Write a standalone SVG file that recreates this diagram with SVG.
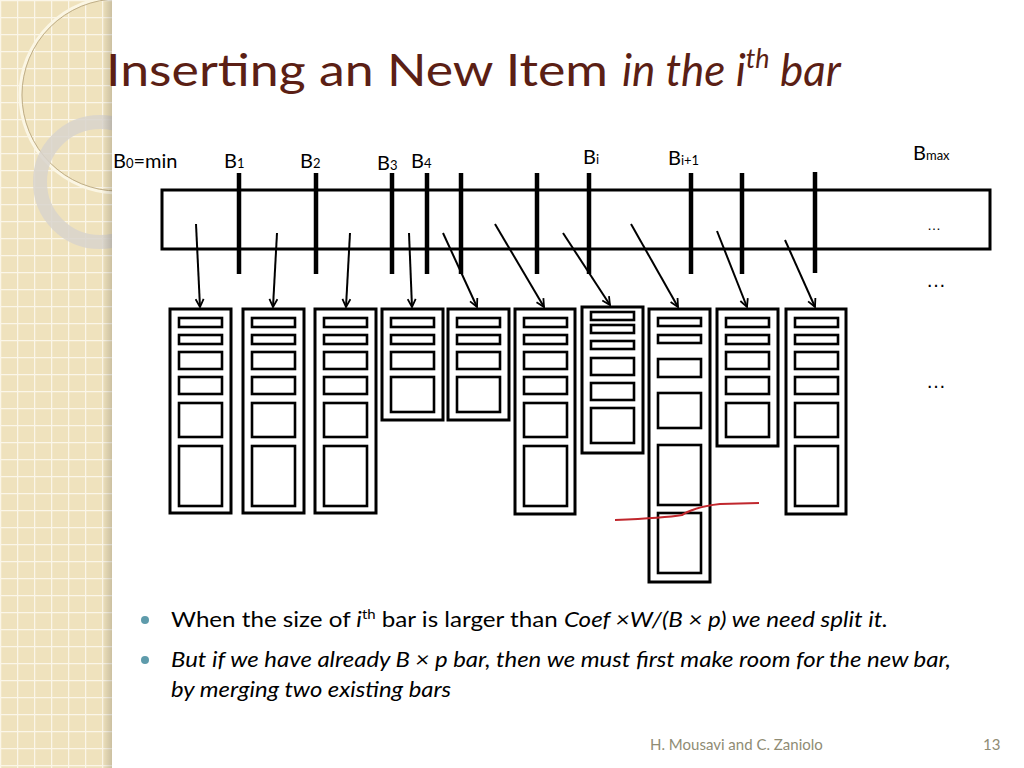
<svg xmlns="http://www.w3.org/2000/svg" width="1024" height="768" viewBox="0 0 1024 768">
<defs>
<pattern id="grid" width="17" height="17" patternUnits="userSpaceOnUse">
<rect width="17" height="17" fill="#efe2bd"/>
<path d="M0 0.5H17M0.5 0V17" stroke="#fbf6e8" stroke-width="1.5"/>
</pattern>
<clipPath id="side"><rect width="112" height="768"/></clipPath>
<linearGradient id="sh" x1="0" x2="1"><stop offset="0" stop-color="#000" stop-opacity="0"/><stop offset="1" stop-color="#000" stop-opacity="0.15"/></linearGradient>
<marker id="ah" viewBox="0 0 10 10" refX="9" refY="5" markerWidth="5" markerHeight="5" orient="auto"><path d="M1 1L9 5L1 9" fill="none" stroke="#000" stroke-width="1.8"/></marker>
<style>
.lbl{font-family:"Gill Sans","Lato","Liberation Sans",sans-serif;font-size:20px;fill:#000}
.sub{font-size:13px}
.o{fill:#fff;stroke:#000;stroke-width:3}
.i{fill:none;stroke:#000;stroke-width:2.6}
.bar{stroke:#000;stroke-width:4.5}
.arr{stroke:#000;stroke-width:2;marker-end:url(#ah)}
.body{font-family:"Lato","Liberation Sans",sans-serif;font-size:21px;fill:#000}
</style>
</defs>
<rect width="1024" height="768" fill="#fff"/>
<g id="sidebar">
<rect width="112" height="768" fill="url(#grid)"/>
<g clip-path="url(#side)">
<circle cx="118" cy="95" r="98" fill="none" stroke="#fbf6e4" stroke-width="3"/>
<circle cx="118" cy="95" r="96" fill="none" stroke="#bfae88" stroke-width="1"/>
<circle cx="100" cy="182" r="60" fill="none" stroke="#d8d4cc" stroke-opacity="0.85" stroke-width="14"/>
</g>
<rect x="102" width="10" height="768" fill="url(#sh)"/>
</g>
<g id="title" font-family="'Gill Sans','Lato','Liberation Sans',sans-serif" font-size="44" fill="#5b1f15">
<text x="106" y="86" textLength="502" lengthAdjust="spacingAndGlyphs">Inserting an New Item</text>
<text x="622" y="86" font-style="italic">in the i<tspan font-size="27" dy="-18">th</tspan><tspan dy="18"> bar</tspan></text>
</g>
<g id="labels">
<text class="lbl" x="113" y="168">B<tspan class="sub">0</tspan>=min</text>
<text class="lbl" x="224" y="168">B<tspan class="sub">1</tspan></text>
<text class="lbl" x="300" y="168">B<tspan class="sub">2</tspan></text>
<text class="lbl" x="377" y="170">B<tspan class="sub">3</tspan></text>
<text class="lbl" x="411" y="168">B<tspan class="sub">4</tspan></text>
<text class="lbl" x="583" y="164">B<tspan class="sub">i</tspan></text>
<text class="lbl" x="668" y="165">B<tspan class="sub">i+1</tspan></text>
<text class="lbl" x="913" y="160">B<tspan class="sub" font-size="17">max</tspan></text>
</g>
<g id="range">
<rect x="162" y="190" width="828" height="59" fill="none" stroke="#000" stroke-width="3"/>
<text x="927" y="230" font-family="Liberation Sans,sans-serif" font-size="14">…</text>
<text x="926" y="287" font-family="Liberation Sans,sans-serif" font-size="20" letter-spacing="3">…</text>
<text x="926" y="388" font-family="Liberation Sans,sans-serif" font-size="20" letter-spacing="3">…</text>
</g>
<g id="boundaries">
<line class="bar" x1="239" y1="173" x2="239" y2="274"/>
<line class="bar" x1="316" y1="173" x2="316" y2="274"/>
<line class="bar" x1="392" y1="173" x2="392" y2="274"/>
<line class="bar" x1="427" y1="173" x2="427" y2="274"/>
<line class="bar" x1="461" y1="173" x2="461" y2="274"/>
<line class="bar" x1="537" y1="173" x2="537" y2="274"/>
<line class="bar" x1="589" y1="173" x2="589" y2="274"/>
<line class="bar" x1="691" y1="173" x2="691" y2="274"/>
<line class="bar" x1="742" y1="173" x2="742" y2="274"/>
<line class="bar" x1="815" y1="172" x2="815" y2="273"/>
</g>
<g id="connectors">
<line class="arr" x1="196" y1="224" x2="200" y2="307"/>
<line class="arr" x1="277" y1="233" x2="273" y2="307"/>
<line class="arr" x1="350" y1="233" x2="346" y2="307"/>
<line class="arr" x1="409" y1="233" x2="412" y2="307"/>
<line class="arr" x1="443" y1="233" x2="477" y2="307"/>
<line class="arr" x1="495" y1="224" x2="544" y2="307"/>
<line class="arr" x1="563" y1="233" x2="610" y2="305"/>
<line class="arr" x1="631" y1="224" x2="678" y2="307"/>
<line class="arr" x1="717" y1="231" x2="747" y2="307"/>
<line class="arr" x1="785" y1="240" x2="815" y2="307"/>
</g>
<g id="col1"><rect class="o" x="170" y="309" width="61" height="204"/>
<rect class="i" x="179" y="318" width="43" height="9"/><rect class="i" x="179" y="335" width="43" height="9"/><rect class="i" x="179" y="352" width="43" height="17"/><rect class="i" x="179" y="377" width="43" height="17"/><rect class="i" x="179" y="403" width="43" height="34"/><rect class="i" x="179" y="446" width="43" height="60"/></g>
<g id="col2"><rect class="o" x="243" y="309" width="61" height="204"/>
<rect class="i" x="252" y="318" width="43" height="9"/><rect class="i" x="252" y="335" width="43" height="9"/><rect class="i" x="252" y="352" width="43" height="17"/><rect class="i" x="252" y="377" width="43" height="17"/><rect class="i" x="252" y="403" width="43" height="34"/><rect class="i" x="252" y="446" width="43" height="60"/></g>
<g id="col3"><rect class="o" x="315" y="309" width="61" height="204"/>
<rect class="i" x="324" y="318" width="43" height="9"/><rect class="i" x="324" y="335" width="43" height="9"/><rect class="i" x="324" y="352" width="43" height="17"/><rect class="i" x="324" y="377" width="43" height="17"/><rect class="i" x="324" y="403" width="43" height="34"/><rect class="i" x="324" y="446" width="43" height="60"/></g>
<g id="col4"><rect class="o" x="382" y="309" width="61" height="111"/>
<rect class="i" x="391" y="318" width="43" height="9"/><rect class="i" x="391" y="335" width="43" height="9"/><rect class="i" x="391" y="352" width="43" height="17"/><rect class="i" x="391" y="377" width="43" height="35"/></g>
<g id="col5"><rect class="o" x="448" y="309" width="61" height="111"/>
<rect class="i" x="457" y="318" width="43" height="9"/><rect class="i" x="457" y="335" width="43" height="9"/><rect class="i" x="457" y="352" width="43" height="17"/><rect class="i" x="457" y="377" width="43" height="35"/></g>
<g id="col6"><rect class="o" x="515" y="309" width="60" height="205"/>
<rect class="i" x="524" y="318" width="43" height="9"/><rect class="i" x="524" y="335" width="43" height="9"/><rect class="i" x="524" y="352" width="43" height="17"/><rect class="i" x="524" y="377" width="43" height="17"/><rect class="i" x="524" y="403" width="43" height="34"/><rect class="i" x="524" y="446" width="43" height="60"/></g>
<g id="col7"><rect class="o" x="582" y="307" width="61" height="146"/>
<rect class="i" x="591" y="312" width="43" height="8"/><rect class="i" x="591" y="325" width="43" height="8"/><rect class="i" x="591" y="341" width="43" height="8"/><rect class="i" x="591" y="358" width="43" height="17"/><rect class="i" x="591" y="383" width="43" height="17"/><rect class="i" x="591" y="408" width="43" height="35"/></g>
<g id="col8"><rect class="o" x="649" y="309" width="61" height="273"/>
<rect class="i" x="658" y="318" width="43" height="8"/><rect class="i" x="658" y="335" width="43" height="8"/><rect class="i" x="658" y="359" width="43" height="18"/><rect class="i" x="658" y="393" width="43" height="35"/><rect class="i" x="658" y="445" width="43" height="60"/><rect class="i" x="658" y="513" width="43" height="60"/></g>
<g id="col9"><rect class="o" x="717" y="309" width="61" height="137"/>
<rect class="i" x="726" y="318" width="43" height="9"/><rect class="i" x="726" y="335" width="43" height="9"/><rect class="i" x="726" y="352" width="43" height="17"/><rect class="i" x="726" y="377" width="43" height="17"/><rect class="i" x="726" y="403" width="43" height="34"/></g>
<g id="col10"><rect class="o" x="786" y="309" width="60" height="205"/>
<rect class="i" x="795" y="318" width="43" height="9"/><rect class="i" x="795" y="335" width="43" height="9"/><rect class="i" x="795" y="352" width="43" height="17"/><rect class="i" x="795" y="377" width="43" height="17"/><rect class="i" x="795" y="403" width="43" height="34"/><rect class="i" x="795" y="446" width="43" height="60"/></g>
<g id="splitline"><path d="M615 520 C640 519 665 518 682 515 C690 510 700 506 720 504 L759 503" fill="none" stroke="#c0272d" stroke-width="2.2"/></g>
<g id="bullets">
<circle cx="145" cy="620" r="4" fill="#5e9bab"/>
<circle cx="145" cy="660" r="4" fill="#5e9bab"/>
<text class="body" x="171" y="627" textLength="717" lengthAdjust="spacingAndGlyphs">When the size of <tspan font-style="italic">i</tspan><tspan font-size="13" dy="-8">th</tspan><tspan dy="8"> bar is larger than </tspan><tspan font-style="italic">Coef ×W/(B × p) we need split it.</tspan></text>
<text class="body" x="171" y="667" font-style="italic" textLength="780" lengthAdjust="spacingAndGlyphs">But if we have already B × p  bar, then we must first make room for the new bar,</text>
<text class="body" x="171" y="697" font-style="italic" textLength="280" lengthAdjust="spacingAndGlyphs">by merging two existing  bars</text>
</g>
<g id="footer" font-family="'Gill Sans','Lato','Liberation Sans',sans-serif" font-size="15" fill="#8f8c74">
<text x="650" y="750">H. Mousavi and C. Zaniolo</text>
<text x="983" y="750">13</text>
</g>
</svg>
